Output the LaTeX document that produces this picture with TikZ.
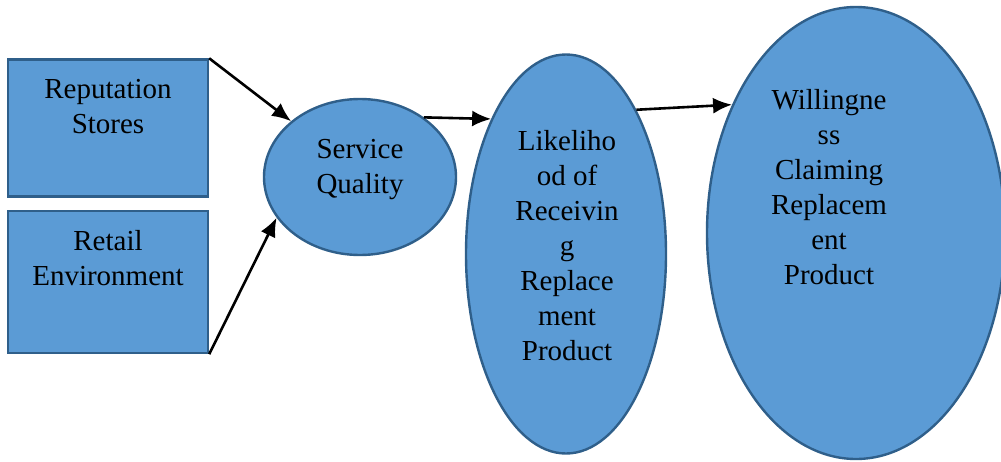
\documentclass[tikz,border=0pt]{standalone}
\usepackage{fontspec}
\setmainfont{Liberation Serif}
\usetikzlibrary{shapes.geometric,arrows.meta}
\definecolor{fillblue}{HTML}{5B9BD5}
\definecolor{edgeblue}{HTML}{2F5F8A}
\tikzset{
  boxshape/.style={draw=edgeblue,fill=fillblue,line width=2.4pt,rectangle,inner sep=0pt},
  ellshape/.style={draw=edgeblue,fill=fillblue,line width=2.4pt,ellipse,inner sep=0pt},
  lbl/.style={anchor=base,align=center,inner sep=0pt,font=\fontsize{29}{35}\selectfont},
  conn/.style={line width=2.6pt,-{Latex[length=19pt,width=16pt]}}
}
\begin{document}
\begin{tikzpicture}[x=1pt,y=-1pt]
\useasboundingbox (0,0) rectangle (1001,461);
\clip (0,0) rectangle (1001,461);
\node[boxshape,minimum width=200pt,minimum height=137pt] (b1) at (108,128) {};
\node[boxshape,minimum width=200pt,minimum height=142pt] (b2) at (108,282) {};
\node[ellshape,minimum width=192pt,minimum height=156pt] (sq) at (360,177) {};
\node[ellshape,minimum width=200pt,minimum height=399pt] (lk) at (566,254) {};
\node[ellshape,minimum width=298pt,minimum height=452pt] (wl) at (856,233) {};
% base anchor of a multi-line node is the baseline of its last line
\node[lbl] (t1) at (108,133) {Reputation\\Stores};
\node[lbl] (t2) at (108,285) {Retail\\Environment};
\node[lbl] (t3) at (360,193) {Service\\Quality};
\node[lbl] (t4) at (567,360) {Likeliho\\od of\\Receivin\\g\\Replace\\ment\\Product};
\node[lbl] (t5) at (829,284) {Willingne\\ss\\Claiming\\Replacem\\ent\\Product};
\draw[conn] (b1.north east) -- (sq.141);
\draw[conn] (b2.south east) -- (sq.206);
\draw[conn] (sq.43) -- (lk.119);
\draw[conn] (lk.64) -- (wl.134);
\end{tikzpicture}
\end{document}
